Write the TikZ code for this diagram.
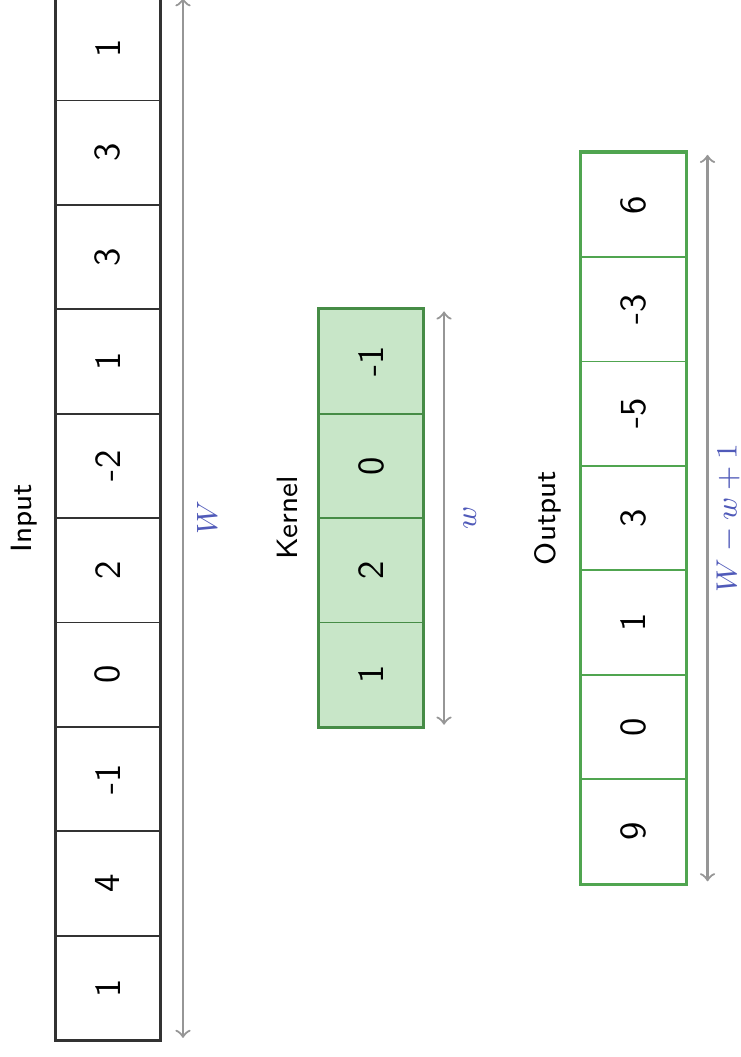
\documentclass[tikz,border=0pt]{standalone}
\usepackage{graphicx}
\usetikzlibrary{calc}
\definecolor{kfill}{RGB}{200,230,200}
\definecolor{kborder}{RGB}{70,140,70}
\definecolor{oborder}{RGB}{80,165,80}
\definecolor{arrowgray}{RGB}{150,150,150}
\definecolor{dimblue}{RGB}{80,90,185}
\definecolor{inborder}{RGB}{50,50,50}
\begin{document}
\begin{tikzpicture}[
  cell/.style={draw=inborder, minimum size=1cm, inner sep=0pt, font=\sffamily, line width=0.5pt},
  kcell/.style={cell, draw=kborder, fill=kfill},
  ocell/.style={cell, draw=oborder},
  lbl/.style={font=\sffamily\footnotesize, inner sep=0pt},
  dim/.style={<->, >=to, draw=arrowgray, line width=0.6pt},
  dimlbl/.style={font=\footnotesize, text=dimblue, inner sep=0pt},
  outer/.style={line width=0.7pt}
]
\useasboundingbox (0,0) rectangle (7.088,-10.124);
\def\yc{-4.962}
% Input
\foreach [count=\i from 0] \v in {1,4,-1,0,2,-2,1,3,3,1}
  \node[cell] (in\i) at (1.034,{\yc-4.5+\i}) {\rotatebox{90}{\v}};
\draw[outer, inborder] (in0.south west) rectangle (in9.north east);
\node[lbl] (inlbl) at (0.23,\yc) {\rotatebox{90}{Input}};
\coordinate (inlo) at ($(in0.south east)+(0.21,0.03)$);
\coordinate (inhi) at ($(in9.north east)+(0.21,-0.03)$);
\draw[dim] (inlo) -- (inhi);
\node[dimlbl] (Wl) at (1.983,\yc) {\rotatebox{90}{$W$}};
% Kernel
\foreach [count=\i from 0] \v in {1,2,0,-1}
  \node[kcell] (k\i) at (3.554,{\yc-1.5+\i}) {\rotatebox{90}{\v}};
\draw[outer, kborder] (k0.south west) rectangle (k3.north east);
\node[lbl] (klbl) at (2.75,\yc) {\rotatebox{90}{Kernel}};
\coordinate (klo) at ($(k0.south east)+(0.19,0.03)$);
\coordinate (khi) at ($(k3.north east)+(0.19,-0.03)$);
\draw[dim] (klo) -- (khi);
\node[dimlbl] (wl) at (4.50,\yc) {\rotatebox{90}{$w$}};
% Output
\foreach [count=\i from 0] \v in {9,0,1,3,-5,-3,6}
  \node[ocell] (o\i) at (6.068,{\yc-3+\i}) {\rotatebox{90}{\v}};
\draw[outer, oborder] (o0.south west) rectangle (o6.north east);
\node[lbl] (olbl) at (5.25,\yc) {\rotatebox{90}{Output}};
\coordinate (olo) at ($(o0.south east)+(0.20,0.03)$);
\coordinate (ohi) at ($(o6.north east)+(0.20,-0.03)$);
\draw[dim] (olo) -- (ohi);
\node[dimlbl] (Wwl) at (6.973,\yc) {\rotatebox{90}{$W-w+1$}};
\end{tikzpicture}
\end{document}
